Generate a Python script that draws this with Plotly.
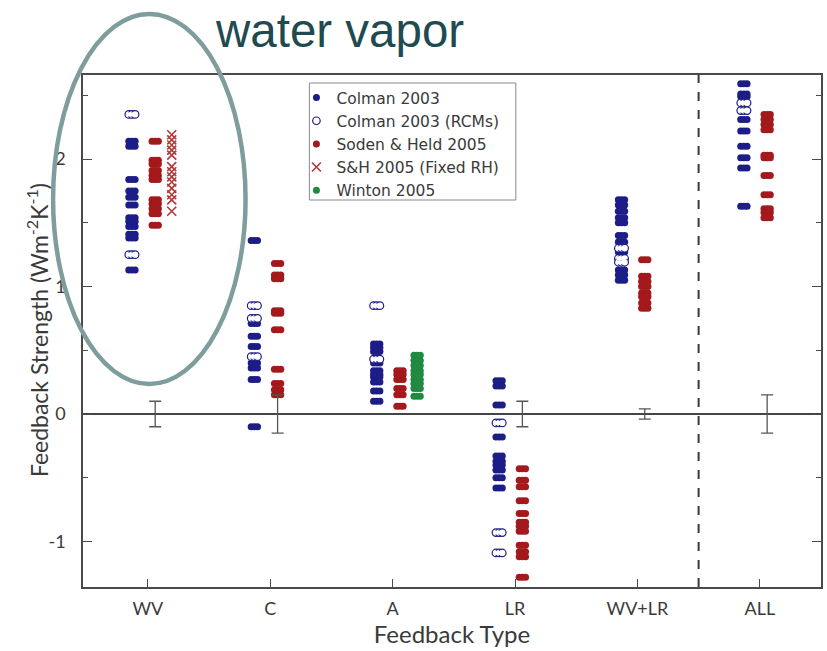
import plotly.graph_objects as go

# ---------------- data ----------------
categories = ["WV", "C", "A", "LR", "WV+LR", "ALL"]

# Colman 2003 (filled), one list per category
colman_2003 = [
    [2.14, 2.10, 1.84, 1.75, 1.70, 1.64, 1.54, 1.51, 1.47, 1.41, 1.38, 1.13],
    [1.36, 0.71, 0.61, 0.53, 0.40, 0.36, 0.27, -0.10],
    [0.55, 0.52, 0.49, 0.40, 0.34, 0.31, 0.29, 0.25, 0.18, 0.10],
    [0.26, 0.22, 0.07, -0.18, -0.33, -0.37, -0.40, -0.44, -0.50, -0.58],
    [1.68, 1.64, 1.59, 1.54, 1.50, 1.40, 1.35, 1.27, 1.13, 1.09, 1.05],
    [2.59, 2.51, 2.49, 2.31, 2.22, 2.10, 2.01, 1.93, 1.63],
]
# Colman 2003 (RCMs, open)
colman_2003_rcm = [
    [2.35, 1.25],
    [0.85, 0.75, 0.45],
    [0.85, 0.43],
    [-0.07, -0.93, -1.09],
    [1.30, 1.22, 1.19],
    [2.44, 2.38],
]
# Soden & Held 2005
soden_held_2005 = [
    [2.14, 1.99, 1.96, 1.91, 1.87, 1.84, 1.68, 1.65, 1.61, 1.57, 1.48],
    [1.18, 1.09, 1.06, 0.81, 0.79, 0.66, 0.35, 0.24, 0.19, 0.15],
    [0.34, 0.31, 0.27, 0.20, 0.15, 0.06],
    [-0.43, -0.52, -0.57, -0.68, -0.78, -0.85, -0.88, -0.92, -1.03, -1.08, -1.12, -1.28],
    [1.21, 1.08, 1.04, 1.00, 0.95, 0.92, 0.87, 0.83],
    [2.35, 2.31, 2.27, 2.23, 2.03, 2.01, 1.87, 1.72, 1.61, 1.58, 1.54],
]
# S&H 2005 (Fixed RH) -- WV only
sh_fixed_rh = [
    [2.19, 2.15, 2.11, 2.07, 2.03, 1.94, 1.90, 1.86, 1.82, 1.77, 1.72, 1.68, 1.59],
    [], [], [], [], [],
]
# Winton 2005 -- A only
winton_2005 = [
    [], [],
    [0.46, 0.42, 0.38, 0.34, 0.31, 0.27, 0.24, 0.20, 0.14],
    [], [], [],
]
# inter-model uncertainty bars (half-widths), categories with a bar
errbar_categories = ["WV", "C", "LR", "WV+LR", "ALL"]
errbar_halfwidths = [0.10, 0.15, 0.10, 0.04, 0.15]

# ---------------- styling ----------------
BLUE = "#1d1d88"
RED = "#a3191c"
XRED = "#b03a3a"
GREEN = "#1f8a40"
AXIS = "#4a4a4a"
TXT = "#3a3a3a"
FONT = "Lato, Open Sans, sans-serif"
LEGFONT = "DejaVu Sans, Open Sans, sans-serif"

OFF_BLUE, OFF_RED, OFF_X, OFF_GREEN, OFF_ERR = -0.13, 0.06, 0.195, 0.20, 0.06
D = 0.026  # half-stretch of the ellipse-shaped markers (x units)

# plot-area geometry in pixels (for paper-referenced decorations)
W, H = 827, 651
ML, MR, MT, MB = 83, 4, 75, 64
PW, PH = W - ML - MR, H - MT - MB


def px(xpix):
    return (xpix - ML) / PW


def py(ypix):
    return (H - MB - ypix) / PH


def expand(series, offset):
    xs, ys = [], []
    for i, vals in enumerate(series):
        for v in vals:
            xs.append(i + offset)
            ys.append(v)
    return xs, ys


def stretch(xs, ys):
    X, Y = [], []
    for k in (-1, 0, 1):
        X += [x + k * D for x in xs]
        Y += list(ys)
    return X, Y


fig = go.Figure()

# Colman 2003 filled
bx, by = stretch(*expand(colman_2003, OFF_BLUE))
fig.add_trace(go.Scatter(x=bx, y=by, mode="markers", name="Colman 2003",
                         marker=dict(symbol="circle", size=7, color=BLUE, line=dict(width=0))))
# Colman 2003 RCMs open
ox, oy = stretch(*expand(colman_2003_rcm, OFF_BLUE))
fig.add_trace(go.Scatter(x=ox, y=oy, mode="markers", name="Colman 2003 (RCMs)",
                         marker=dict(symbol="circle", size=7.5, color="white",
                                     line=dict(width=1.2, color=BLUE))))
fig.add_trace(go.Scatter(x=ox, y=oy, mode="markers", showlegend=False, hoverinfo="skip",
                         marker=dict(symbol="circle", size=4.2, color="white", line=dict(width=0))))
# Soden & Held 2005
rx, ry = stretch(*expand(soden_held_2005, OFF_RED))
fig.add_trace(go.Scatter(x=rx, y=ry, mode="markers", name="Soden &amp; Held 2005",
                         marker=dict(symbol="circle", size=7, color=RED, line=dict(width=0))))
# S&H fixed RH
xx, xy = expand(sh_fixed_rh, OFF_X)
fig.add_trace(go.Scatter(x=xx, y=xy, mode="markers", name="S&amp;H 2005 (Fixed RH)",
                         marker=dict(symbol="x-thin", size=9, color=XRED,
                                     line=dict(width=1.6, color=XRED))))
# Winton 2005
gx, gy = stretch(*expand(winton_2005, OFF_GREEN))
fig.add_trace(go.Scatter(x=gx, y=gy, mode="markers", name="Winton 2005",
                         marker=dict(symbol="circle", size=7, color=GREEN, line=dict(width=0))))

# error bars
ex = [categories.index(c) + OFF_ERR for c in errbar_categories]
fig.add_trace(go.Scatter(x=ex, y=[0] * len(ex), mode="markers", showlegend=False, hoverinfo="skip",
                         marker=dict(size=1, color="rgba(0,0,0,0)"),
                         error_y=dict(type="data", array=errbar_halfwidths, visible=True,
                                      color="#555555", thickness=1.3, width=6)))

fig.update_layout(
    width=W, height=H,
    margin=dict(l=ML, r=MR, t=MT, b=MB, pad=0),
    paper_bgcolor="white", plot_bgcolor="white",
    font=dict(family=FONT, color=TXT, size=15),
    showlegend=True,
    legend=dict(x=px(297), y=py(81), xanchor="left", yanchor="top",
                bgcolor="rgba(0,0,0,0)", borderwidth=0,
                font=dict(family=LEGFONT, size=15.5, color=TXT),
                tracegroupgap=0, itemsizing="trace"),
    xaxis=dict(range=[-0.53, 5.50], tickmode="array", tickvals=list(range(len(categories))),
               ticktext=categories, ticks="inside", ticklen=8, tickcolor=AXIS, tickwidth=1.3,
               minor=dict(tickvals=[4.5], ticks="inside", ticklen=8, tickcolor=AXIS,
                          tickwidth=1.3, showgrid=False),
               showline=True, linecolor=AXIS, linewidth=1.6, mirror=True,
               showgrid=False, zeroline=False, ticklabelstandoff=5,
               tickfont=dict(family=FONT, size=18, color=TXT),
               title=dict(text="Feedback Type", font=dict(family=FONT, size=24, color=TXT), standoff=6)),
    yaxis=dict(range=[-1.357, 2.659], tickmode="array", tickvals=[-1, 0, 1, 2],
               ticktext=["-1", "0", "1", "2"],
               ticks="inside", ticklen=9, tickcolor=AXIS, tickwidth=1.3,
               minor=dict(tickvals=[-0.5, 0.5, 1.5, 2.5], ticks="inside", ticklen=5,
                          tickcolor=AXIS, tickwidth=1.3, showgrid=False),
               showline=True, linecolor=AXIS, linewidth=1.6, mirror="ticks",
               showgrid=False, zeroline=True, zerolinecolor="#444444", zerolinewidth=1.6,
               ticklabelstandoff=12,
               tickfont=dict(family=FONT, size=18, color=TXT)),
    shapes=[
        # dashed separator before ALL
        dict(type="line", xref="x", yref="paper", x0=4.5, x1=4.5, y0=0, y1=1,
             line=dict(color="#3a3a3a", width=2, dash="dash")),
        # legend box
        dict(type="rect", xref="paper", yref="paper", x0=px(310), x1=px(517), y0=py(200), y1=py(83),
             line=dict(color="#8a8a8a", width=1), fillcolor="rgba(0,0,0,0)"),
        # highlight ellipse around WV
        dict(type="circle", xref="paper", yref="paper", x0=px(53), x1=px(246), y0=py(384), y1=py(14),
             line=dict(color="#7f9d9d", width=4.5), fillcolor="rgba(0,0,0,0)"),
    ],
    annotations=[
        dict(text="water vapor", xref="paper", yref="paper", x=px(340), y=py(30),
             xanchor="center", yanchor="middle", showarrow=False,
             font=dict(family="Liberation Sans, Arial, sans-serif", size=47.5, color="#1f4a50")),
        dict(text="Feedback Strength (Wm<sup>-2</sup>K<sup>-1</sup>)", xref="paper", yref="paper",
             x=px(37), y=py(330), xanchor="center", yanchor="middle", textangle=-90,
             showarrow=False, font=dict(family=FONT, size=23, color=TXT)),
    ],
)

fig.write_html("out.html")
